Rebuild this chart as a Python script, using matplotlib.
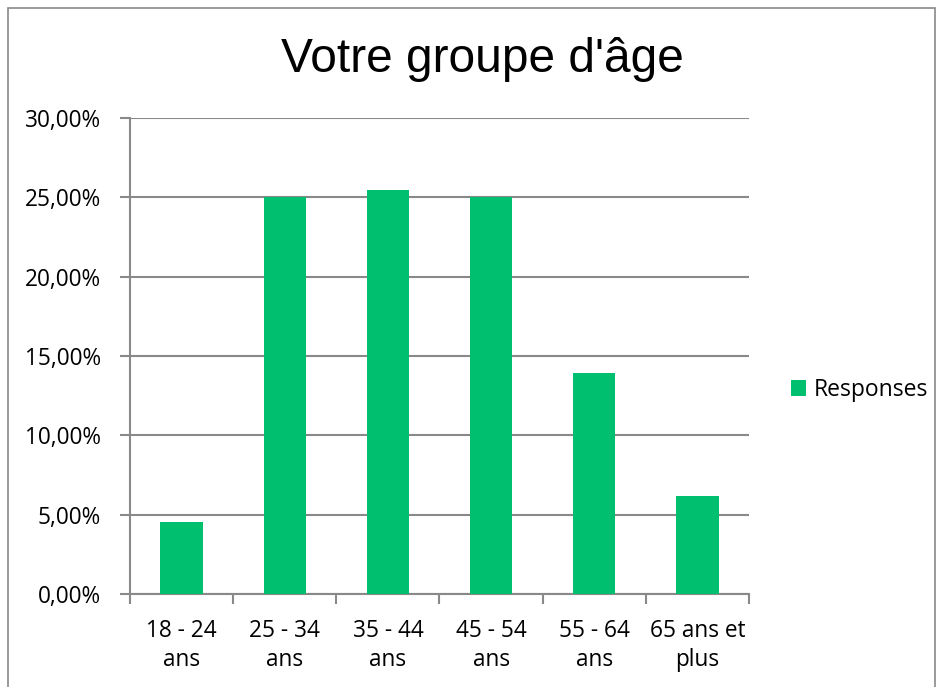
import numpy as np
import matplotlib
matplotlib.use("Agg")
from matplotlib import pyplot as plt
from matplotlib.patches import Rectangle
from matplotlib.ticker import FuncFormatter

# data
categories = ["18 - 24\nans", "25 - 34\nans", "35 - 44\nans", "45 - 54\nans", "55 - 64\nans", "65 ans et\nplus"]
responses = [4.55, 25.0, 25.45, 25.0, 13.95, 6.15]
yticks = [0, 5, 10, 15, 20, 25, 30]

green = "#00BF6F"
grey = "#898989"

plt.rcParams['font.family'] = ['Open Sans', 'DejaVu Sans']

fig = plt.figure(figsize=(9.41, 6.87), dpi=100)
ax = fig.add_axes([130/941, 1-594/687, 619/941, 476/687])

x = np.arange(len(categories))
ax.bar(x, responses, width=0.41, color=green, label="Responses", zorder=3)

ax.set_xlim(-0.5, len(categories)-0.5)
ax.set_ylim(0, 30)
ax.set_yticks(yticks)
ax.yaxis.set_major_formatter(FuncFormatter(lambda v, p: ("%.2f%%" % v).replace(".", ",")))
ax.grid(axis='y', color=grey, linewidth=1.5, zorder=0)

ax.set_xticks(np.arange(len(categories)+1) - 0.5, minor=False)
ax.set_xticklabels([])
ax.set_xticks(x, minor=True)
ax.set_xticklabels(categories, minor=True, fontsize=16.3, linespacing=1.3)
ax.tick_params(axis='x', which='major', length=7, width=1.5, color=grey)
ax.tick_params(axis='x', which='minor', length=0, pad=18)
ax.tick_params(axis='y', length=7, width=1.5, color=grey, labelsize=16.3, pad=14)

for s in ['top', 'right']:
    ax.spines[s].set_visible(False)
for s in ['left', 'bottom']:
    ax.spines[s].set_color(grey)
    ax.spines[s].set_linewidth(1.5)

fig.text(482/941, 1-60/687, "Votre groupe d'âge", fontsize=34.5, ha='center', va='center',
         family=['Liberation Sans', 'DejaVu Sans'])

ax.legend(loc='center left', bbox_to_anchor=(770/941, 1-390/687), bbox_transform=fig.transFigure,
          frameon=False, fontsize=16.5, handlelength=0.65, handleheight=0.65, handletextpad=0.35)

# outer chart border
fig.patches.append(Rectangle((8/941, -0.05), 927/941, 1.05 - 8/687, transform=fig.transFigure,
                             fill=False, edgecolor=grey, linewidth=1.2))

fig.savefig("out.png", dpi=100)
